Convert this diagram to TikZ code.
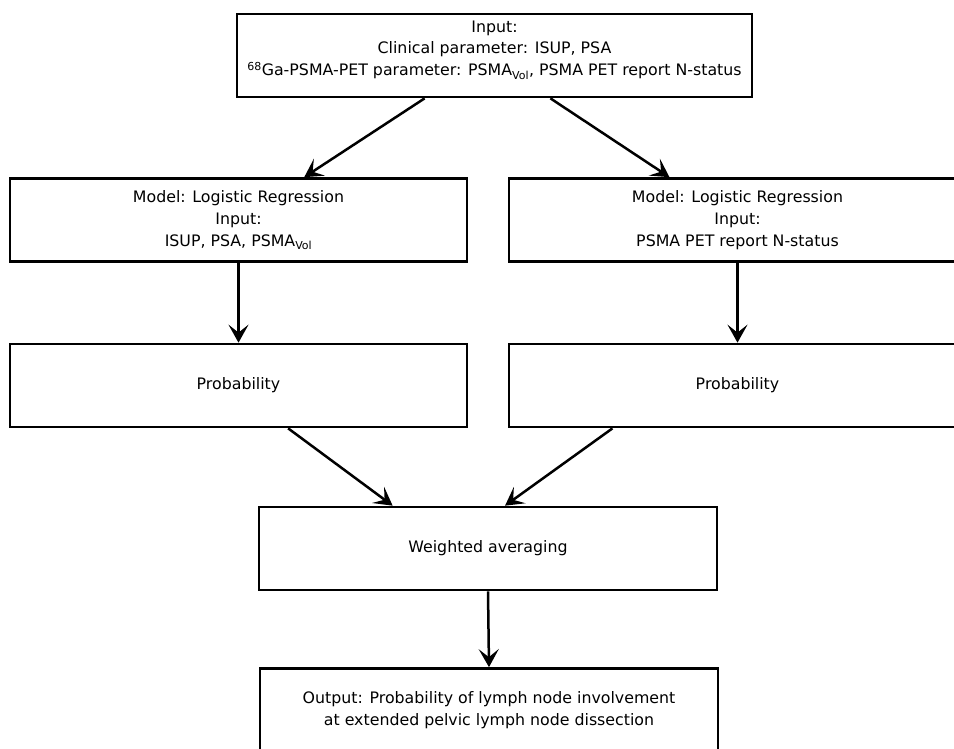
\documentclass[tikz,border=0pt]{standalone}
\usepackage{fontspec}
\setmainfont{DejaVu Sans}
\usetikzlibrary{arrows.meta,calc}
\newcommand{\subv}[1]{\textsubscript{\fontsize{11pt}{12pt}\selectfont #1}}
\newcommand{\supv}[1]{\textsuperscript{\fontsize{11pt}{12pt}\selectfont #1}}
\begin{document}
\begin{tikzpicture}[x=1pt,y=-1pt,
  box/.style={draw, line width=2.7pt, align=center, inner sep=0pt,
    minimum height=83pt, font=\fontsize{15.8pt}{21.8pt}\selectfont},
  arr/.style={line width=2.5pt, -{Stealth[length=18pt,width=20pt,inset=8pt]}}]
\useasboundingbox (0,0) rectangle (954,748);
\node[box, minimum width=515pt] (top) at (494.5,55.5)
  {Input:\\Clinical parameter: ISUP, PSA\\\supv{68}Ga-PSMA-PET parameter: PSMA\subv{Vol}, PSMA PET report N-status\\[-7pt]\mbox{}};
\node[box, minimum width=457pt] (ml) at (238.5,220)
  {Model: Logistic Regression\\Input:\\ISUP, PSA, PSMA\subv{Vol}};
\node[box, minimum width=457pt] (mr) at (737.5,220)
  {Model: Logistic Regression\\Input:\\PSMA PET report N-status};
\node[box, minimum width=457pt] (pl) at (238.5,385.5) {Probability};
\node[box, minimum width=457pt] (pr) at (737.5,385.5) {Probability};
\node[box, minimum width=458pt] (wa) at (488,548.5) {Weighted averaging};
\node[box, minimum width=458pt] (out) at (489,710)
  {Output: Probability of lymph node involvement\\at extended pelvic lymph node dissection};
\draw[arr] ($(top.south west)!0.365!(top.south east)$) -- ($(ml.north west)!0.643!(ml.north east)$);
\draw[arr] ($(top.south west)!0.608!(top.south east)$) -- ($(mr.north west)!0.352!(mr.north east)$);
\draw[arr] (ml.south) -- (pl.north);
\draw[arr] (mr.south) -- (pr.north);
\draw[arr] ($(pl.south west)!0.608!(pl.south east)$) -- ($(wa.north west)!0.293!(wa.north east)$);
\draw[arr] ($(pr.south west)!0.228!(pr.south east)$) -- ($(wa.north west)!0.537!(wa.north east)$);
\draw[arr] (wa.south) -- (out.north);
\end{tikzpicture}
\end{document}
